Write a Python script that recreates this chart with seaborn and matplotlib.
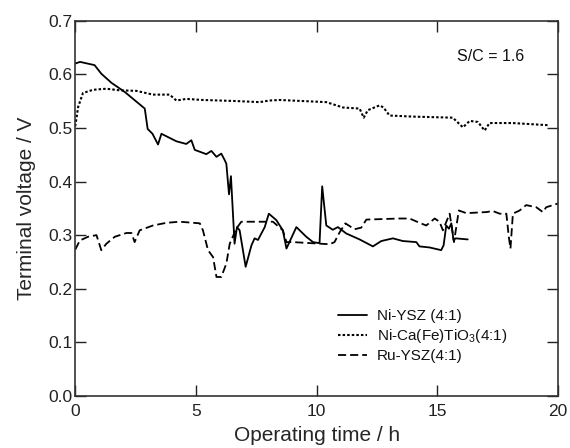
import numpy as np
import pandas as pd
import matplotlib
matplotlib.use("Agg")
import matplotlib.pyplot as plt
import seaborn as sns

# ---- data ----
ni_ysz_t = [0, 0.2, 0.8, 1.08, 1.5, 2.05, 2.88, 3.0, 3.2, 3.43, 3.57, 4.19, 4.6, 4.81, 4.95,
            5.43, 5.64, 5.85, 6.05, 6.19, 6.26, 6.37, 6.45, 6.6, 6.7, 6.81, 7.06, 7.3, 7.43,
            7.57, 7.85, 8.02, 8.33, 8.6, 8.75, 9.16, 9.57, 9.85, 10.12, 10.23, 10.4, 10.67,
            10.88, 11.23, 11.78, 12.33, 12.68, 13.16, 13.57, 14.13, 14.26, 14.68, 15.16,
            15.26, 15.37, 15.48, 15.58, 15.67, 15.76, 16.26]
ni_ysz_v = [0.620, 0.623, 0.617, 0.601, 0.584, 0.567, 0.536, 0.498, 0.489, 0.469, 0.489,
            0.475, 0.470, 0.477, 0.459, 0.451, 0.457, 0.446, 0.452, 0.440, 0.433, 0.376,
            0.410, 0.284, 0.315, 0.309, 0.241, 0.281, 0.294, 0.291, 0.315, 0.340, 0.328,
            0.309, 0.275, 0.315, 0.297, 0.287, 0.285, 0.391, 0.318, 0.310, 0.315, 0.303,
            0.292, 0.279, 0.289, 0.294, 0.289, 0.287, 0.279, 0.277, 0.272, 0.281, 0.318,
            0.312, 0.322, 0.291, 0.294, 0.292]

ni_cft_t = [0, 0.12, 0.32, 0.74, 1.29, 1.84, 2.53, 3.22, 3.91, 4.19, 4.6, 5.29, 6.67, 7.64,
            8.05, 8.47, 10.4, 11.09, 11.78, 11.95, 12.12, 12.61, 12.77, 13.02, 13.99, 15.64,
            16.06, 16.34, 16.68, 16.96, 17.16, 18.13, 19.58]
ni_cft_v = [0.503, 0.539, 0.565, 0.571, 0.573, 0.570, 0.569, 0.562, 0.562, 0.551, 0.554,
            0.552, 0.550, 0.548, 0.551, 0.552, 0.548, 0.538, 0.536, 0.519, 0.533, 0.542,
            0.538, 0.523, 0.521, 0.519, 0.501, 0.513, 0.511, 0.495, 0.509, 0.509, 0.505]

ru_ysz_t = [0, 0.19, 0.53, 0.88, 1.08, 1.29, 1.64, 2.12, 2.33, 2.46, 2.67, 3.22, 3.78, 4.33,
            5.16, 5.29, 5.5, 5.71, 5.85, 6.05, 6.26, 6.4, 6.67, 6.88, 8.19, 8.6, 8.75, 9.02,
            10.54, 10.74, 10.95, 11.19, 11.57, 11.85, 12.06, 13.44, 13.85, 14.26, 14.54,
            14.89, 15.09, 15.23, 15.51, 15.62, 15.69, 15.89, 16.2, 17.03, 17.3, 17.58, 17.86,
            17.96, 18.03, 18.13, 18.41, 18.68, 19.1, 19.37, 19.51, 20.0]
ru_ysz_v = [0.273, 0.290, 0.297, 0.300, 0.272, 0.284, 0.297, 0.304, 0.304, 0.287, 0.309,
            0.318, 0.323, 0.325, 0.322, 0.309, 0.272, 0.259, 0.222, 0.222, 0.247, 0.284,
            0.312, 0.325, 0.325, 0.309, 0.287, 0.287, 0.283, 0.287, 0.305, 0.322, 0.311,
            0.314, 0.329, 0.331, 0.331, 0.323, 0.318, 0.331, 0.325, 0.309, 0.340, 0.309,
            0.287, 0.346, 0.341, 0.343, 0.345, 0.340, 0.340, 0.297, 0.275, 0.340, 0.346,
            0.356, 0.352, 0.343, 0.352, 0.359]

series_labels = ["Ni-YSZ (4:1)", "Ni-Ca(Fe)TiO$_3$(4:1)", "Ru-YSZ(4:1)"]
x_ticks = [0, 5, 10, 15, 20]
y_ticks = [0.0, 0.1, 0.2, 0.3, 0.4, 0.5, 0.6, 0.7]

# ---- style ----
sns.set_theme(style="ticks")
plt.rcParams["font.family"] = ["Liberation Sans", "DejaVu Sans"]
plt.rcParams["mathtext.default"] = "regular"
plt.rcParams["axes.edgecolor"] = "#222222"
plt.rcParams["text.color"] = "#111111"

fig = plt.figure(figsize=(5.7, 4.48), dpi=100)
ax = fig.add_axes([0.132, 0.116, 0.847, 0.838])

styles = [("-", 1.3), ((0, (1.2, 1.0)), 1.5), ((0, (4.5, 2.2)), 1.3)]
data = [(ni_ysz_t, ni_ysz_v), (ni_cft_t, ni_cft_v), (ru_ysz_t, ru_ysz_v)]
for (t, v), lab, (ls, lw) in zip(data, series_labels, styles):
    sns.lineplot(x=t, y=v, ax=ax, color="black", linestyle=ls, linewidth=lw,
                 sort=False, estimator=None, label=lab)

ax.set_xlim(0, 20)
ax.set_ylim(0, 0.7)
ax.set_xticks(x_ticks)
ax.set_yticks(y_ticks)
ax.set_xticklabels([str(v) for v in x_ticks])
ax.set_yticklabels([f"{v:.1f}" for v in y_ticks])
ax.tick_params(direction="in", length=8, width=1.0, top=True, right=True,
               labelsize=12.5, colors="#222222")
ax.tick_params(axis="y", pad=2)
ax.tick_params(axis="x", pad=6)
for s in ax.spines.values():
    s.set_visible(True)
    s.set_linewidth(1.2)
    s.set_color("#333333")

ax.set_xlabel("Operating time / h", fontsize=15, labelpad=5)
ax.set_ylabel("Terminal voltage / V", fontsize=15, labelpad=9)

ax.text(0.86, 0.905, "S/C = 1.6", transform=ax.transAxes, fontsize=11.5,
        ha="center", va="center")

leg = ax.legend(loc="lower left", bbox_to_anchor=(0.545, 0.088), frameon=False,
                fontsize=11, handlelength=1.9, handletextpad=0.6, labelspacing=0.25,
                borderpad=0, borderaxespad=0)

fig.savefig("out.png", dpi=100)
